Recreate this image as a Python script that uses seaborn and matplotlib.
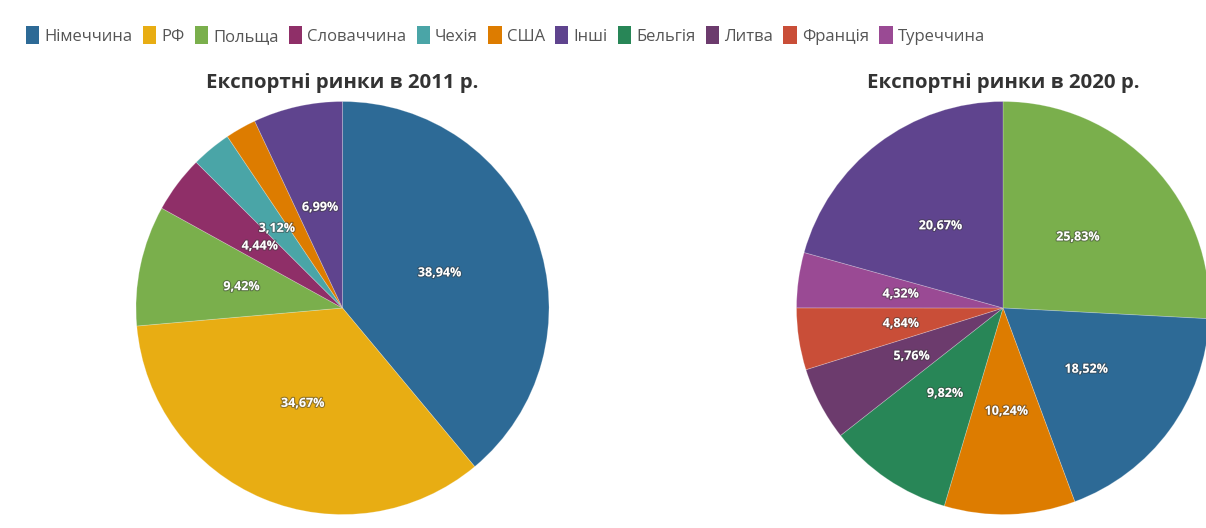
import matplotlib
matplotlib.use("Agg")
import matplotlib.pyplot as plt
import matplotlib.patheffects as pe
from matplotlib.patches import Patch
import seaborn as sns

# Export markets, share of total (%)
countries = ["Німеччина", "РФ", "Польща", "Словаччина", "Чехія", "США",
             "Інші", "Бельгія", "Литва", "Франція", "Туреччина"]
colors = ["#2d6a96", "#e8ad13", "#7aaf4c", "#8f2f68", "#4aa5a7", "#dd7c00",
          "#5f448e", "#288657", "#6c3b6d", "#c94e38", "#9a4a94"]

markets_2011 = ["Німеччина", "РФ", "Польща", "Словаччина", "Чехія", "США", "Інші"]
shares_2011 = [38.94, 34.67, 9.42, 4.44, 3.12, 2.42, 6.99]

markets_2020 = ["Польща", "Німеччина", "США", "Бельгія", "Литва", "Франція", "Туреччина", "Інші"]
shares_2020 = [25.83, 18.52, 10.24, 9.82, 5.76, 4.84, 4.32, 20.67]

titles = ["Експортні ринки в 2011 р.", "Експортні ринки в 2020 р."]

sns.set_theme(style="white")
plt.rcParams["font.family"] = ["Open Sans", "DejaVu Sans"]

palette = dict(zip(countries, sns.color_palette(colors)))

W, H = 1206, 528
fig = plt.figure(figsize=(W / 100, H / 100), dpi=100)
fig.patch.set_facecolor("white")

R = 206.5
centers = [(342.5, 308), (1003, 308)]


def fmt(p):
    return "" if p < 3 else f"{p:.2f}%".replace(".", ",")


for (cx, cy), names, vals, title in zip(centers, [markets_2011, markets_2020],
                                         [shares_2011, shares_2020], titles):
    ax = fig.add_axes([(cx - R) / W, (H - cy - R) / H, 2 * R / W, 2 * R / H])
    wedges, texts, autotexts = ax.pie(
        vals, colors=[palette[n] for n in names], startangle=90, counterclock=False,
        autopct=fmt, pctdistance=0.5, radius=1.0,
        wedgeprops=dict(linewidth=0.6, edgecolor="#ffffff40"),
        textprops=dict(color="white", fontsize=9, fontweight="bold"))
    for t in autotexts:
        t.set_path_effects([pe.withStroke(linewidth=1.6, foreground="#3a3a3a80")])
    ax.set_xlim(-1, 1)
    ax.set_ylim(-1, 1)
    ax.set_aspect("auto")
    ax.axis("off")
    fig.text(cx / W, 1 - 83 / H, title, ha="center", va="center",
             fontsize=14.7, fontweight="bold", color="#333333")

handles = [Patch(facecolor=palette[c], edgecolor="none", label=c) for c in countries]
leg = fig.legend(handles=handles, loc="center left", bbox_to_anchor=(26 / W, 1 - 35.5 / H),
                 ncol=len(countries), frameon=False, fontsize=12,
                 handlelength=0.8, handleheight=1.25, handletextpad=0.3,
                 columnspacing=0.62, borderaxespad=0, borderpad=0)
for t in leg.get_texts():
    t.set_color("#555555")

fig.savefig("out.png", dpi=100, facecolor="white")
